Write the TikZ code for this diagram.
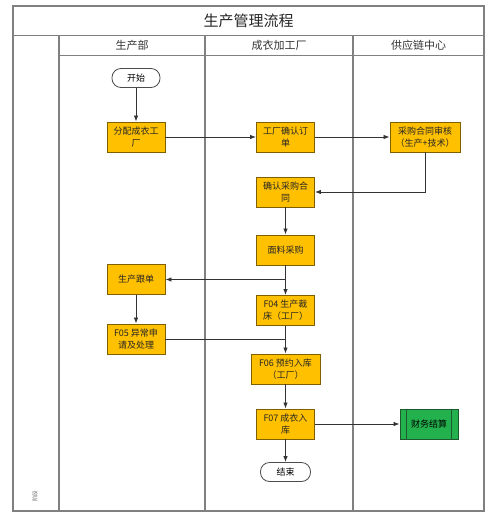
\documentclass[tikz,border=0pt]{standalone}
\usepackage{fontspec}
\setmainfont{Noto Sans CJK SC}
\usetikzlibrary{arrows.meta,calc}
\definecolor{procfill}{HTML}{FFC000}
\definecolor{procdraw}{HTML}{7F6000}
\definecolor{greenfill}{HTML}{22B14C}
\definecolor{greendraw}{HTML}{1E5A2E}
\definecolor{framecol}{HTML}{808080}
\tikzset{
  framel/.style={draw=framecol, line width=1.1pt},
  proc/.style={draw=procdraw, fill=procfill, line width=0.9pt, minimum width=58pt, minimum height=30pt, inner sep=1pt, align=center, font=\fontsize{9}{12}\selectfont, text=black!85},
  term/.style={draw=black!70, fill=white, line width=0.8pt, rounded corners=9pt, minimum width=48pt, minimum height=19pt, inner sep=1pt, font=\fontsize{9}{11}\selectfont},
  green/.style={draw=greendraw, fill=greenfill, line width=0.9pt, minimum width=58pt, minimum height=30pt, inner sep=1pt, font=\fontsize{9}{11}\selectfont},
  conn/.style={draw=black!80, line width=0.85pt},
  arr/.style={conn, -{Latex[length=6pt,width=4.5pt]}},
  hdr/.style={font=\fontsize{11}{13}\selectfont, text=black!80},
}
\begin{document}
\begin{tikzpicture}[x=1pt,y=-1pt]
\useasboundingbox (0,0) rectangle (499,520);
% frame
\draw[framel] (13,6) rectangle (484,511);
\draw[framel] (13,35.7) -- (484,35.7);
\draw[framel] (59,55.7) -- (484,55.7);
\draw[framel] (59,35.7) -- (59,511);
\draw[framel] (205,35.7) -- (205,511);
\draw[framel] (353,35.7) -- (353,511);
% title and headers
\node[font=\fontsize{15}{18}\selectfont, text=black!85] (title) at (248.5,21) {生产管理流程};
\node[hdr] (h1) at (132,45.7) {生产部};
\node[hdr] (h2) at (279,45.7) {成衣加工厂};
\node[hdr] (h3) at (418.5,45.7) {供应链中心};
\node[font=\fontsize{5.5}{6}\selectfont, text=black!60, rotate=90] (stage) at (35,496) {阶段};
% nodes
\node[term] (start) at (136,78) {开始};
\node[proc] (fp) at (136,137) {分配成衣工\\厂};
\node[proc] (fc) at (285.5,137) {工厂确认订\\单};
\node[proc, minimum width=70pt] (sh) at (425,137) {采购合同审核\\（生产+技术）};
\node[proc] (qr) at (285.5,192) {确认采购合\\同};
\node[proc] (ml) at (285.5,250) {面料采购};
\node[proc] (gd) at (136,279.5) {生产跟单};
\node[proc] (f04) at (285.5,310.5) {F04 生产裁\\床（工厂）};
\node[proc] (f05) at (136,339) {F05 异常申\\请及处理};
\node[proc, minimum width=69pt] (f06) at (285.5,369) {F06 预约入库\\（工厂）};
\node[proc] (f07) at (285.5,424) {F07 成衣入\\库};
\node[green] (cw) at (429,424) {财务结算};
\draw[greendraw, line width=0.9pt] ($(cw.north west)+(7,0)$) -- ($(cw.south west)+(7,0)$);
\draw[greendraw, line width=0.9pt] ($(cw.north east)+(-7,0)$) -- ($(cw.south east)+(-7,0)$);
\node[term, minimum width=50pt] (end) at (285.5,472) {结束};
% connectors
\draw[arr] (start) -- (fp);
\draw[arr] (fp) -- (fc);
\draw[arr] (fc) -- (sh);
\draw[arr] (sh.south) |- (qr.east);
\draw[arr] (qr) -- (ml);
\draw[arr] (ml) -- (f04);
\coordinate (j1) at (ml.south |- gd.east);
\draw[arr] (j1) -- (gd.east);
\draw[arr] (gd) -- (f05);
\draw[arr] (f04) -- (f06);
\coordinate (j2) at (f04.south |- f05.east);
\draw[conn] (f05.east) -- (j2);
\draw[arr] (f06) -- (f07);
\draw[arr] (f07) -- (end);
\draw[arr] (f07) -- (cw);
\end{tikzpicture}
\end{document}
